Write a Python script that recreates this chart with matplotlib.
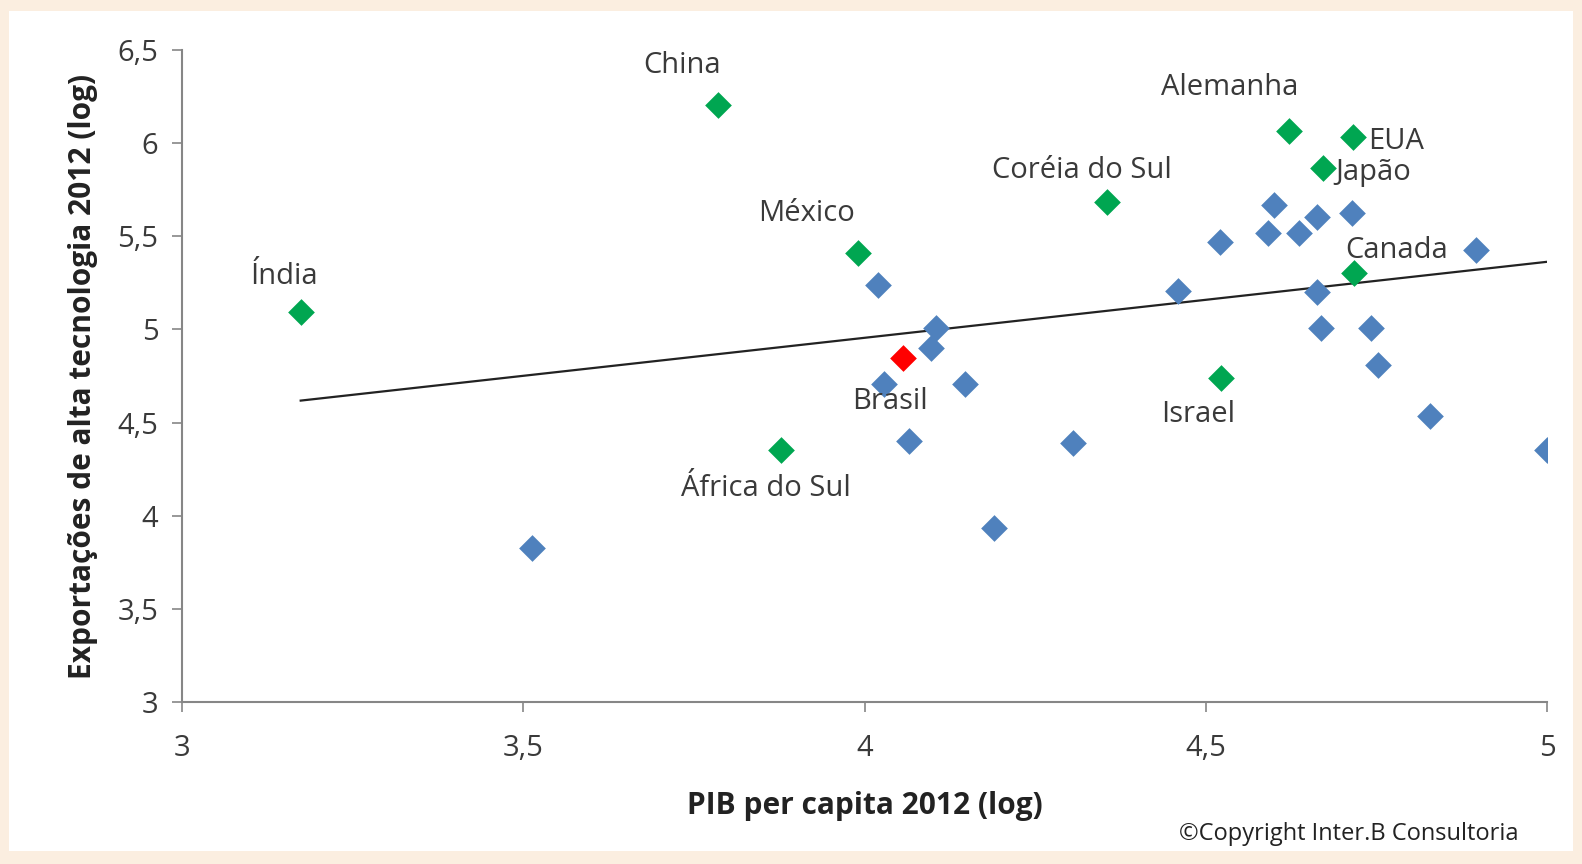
import numpy as np
import matplotlib
matplotlib.use("Agg")
import matplotlib.pyplot as plt
from matplotlib.ticker import FuncFormatter
from matplotlib.patches import Rectangle

# countries highlighted in green
green_names = ["Índia", "China", "México", "África do Sul", "Coréia do Sul",
               "Alemanha", "EUA", "Japão", "Canada", "Israel"]
green_x = [3.174, 3.786, 3.990, 3.877, 4.355, 4.622, 4.716, 4.672, 4.717, 4.522]
green_y = [5.094, 6.205, 5.410, 4.353, 5.684, 6.065, 6.033, 5.867, 5.303, 4.739]

# Brasil
brasil_x = [4.056]
brasil_y = [4.847]

# other countries
blue_x = [3.513, 4.019, 4.104, 4.098, 4.029, 4.147, 4.065, 4.189, 4.305,
          4.459, 4.521, 4.591, 4.600, 4.636, 4.663, 4.714, 4.663, 4.669,
          4.742, 4.752, 4.828, 4.896, 4.999]
blue_y = [3.827, 5.239, 5.008, 4.900, 4.707, 4.707, 4.401, 3.934, 4.390,
          5.206, 5.469, 5.518, 5.668, 5.518, 5.604, 5.625, 5.201, 5.008,
          5.008, 4.809, 4.535, 5.426, 4.353]

# label anchor positions (data coords) and alignment
label_pos = {
    "Índia": (3.150, 5.285, "center"),
    "China": (3.733, 6.42, "center"),
    "México": (3.915, 5.625, "center"),
    "África do Sul": (3.855, 4.145, "center"),
    "Coréia do Sul": (4.318, 5.855, "center"),
    "Alemanha": (4.535, 6.30, "center"),
    "EUA": (4.737, 6.01, "left"),
    "Japão": (4.690, 5.845, "left"),
    "Canada": (4.780, 5.425, "center"),
    "Israel": (4.488, 4.545, "center"),
    "Brasil": (4.037, 4.615, "center"),
}

BLUE = "#4F81BD"
GREEN = "#00A651"
RED = "#FF0000"
GRID = "#868686"
TXT = "#3a3a3a"

plt.rcParams['font.family'] = ['Open Sans', 'DejaVu Sans']

fig = plt.figure(figsize=(15.82, 8.64), dpi=100)
fig.patch.set_facecolor("#fbeee0")
fig.patches.append(Rectangle((0.006, 0.015), 0.988, 0.972, transform=fig.transFigure,
                             facecolor="white", edgecolor="none", zorder=-10))
ax = fig.add_axes([0.115, 0.1875, 0.863, 0.7545])
ax.set_facecolor("none")

ax.scatter(blue_x, blue_y, marker="D", s=185, color=BLUE, zorder=3, linewidths=0)
ax.scatter(green_x, green_y, marker="D", s=185, color=GREEN, zorder=3, linewidths=0)
ax.scatter(brasil_x, brasil_y, marker="D", s=185, color=RED, zorder=3, linewidths=0)

# linear trend over all countries
all_x = np.array(blue_x + green_x + brasil_x)
all_y = np.array(blue_y + green_y + brasil_y)
slope, intercept = np.polyfit(all_x, all_y, 1)
xs = np.array([all_x.min(), all_x.max()])
ax.plot(xs, slope * xs + intercept, color="#222222", lw=1.6, zorder=2)

for name, (lx, ly, ha) in label_pos.items():
    ax.text(lx, ly, name, ha=ha, va="center", fontsize=21, color=TXT, zorder=4)

ax.set_xlim(3, 5)
ax.set_ylim(3, 6.5)
ax.set_xticks([3, 3.5, 4, 4.5, 5])
ax.set_yticks([3, 3.5, 4, 4.5, 5, 5.5, 6, 6.5])
comma = FuncFormatter(lambda v, p: f"{v:g}".replace(".", ","))
ax.xaxis.set_major_formatter(comma)
ax.yaxis.set_major_formatter(comma)
ax.tick_params(axis="both", labelsize=21, labelcolor=TXT, color=GRID, length=7, width=1.2)
ax.tick_params(axis="x", pad=16)
ax.tick_params(axis="y", pad=10)

for s in ["top", "right"]:
    ax.spines[s].set_visible(False)
for s in ["left", "bottom"]:
    ax.spines[s].set_color(GRID)
    ax.spines[s].set_linewidth(1.5)

ax.set_xlabel("PIB per capita 2012 (log)", fontsize=21.5, fontweight="bold", color="#222222", labelpad=20)
ax.set_ylabel("Exportações de alta tecnologia 2012 (log)", fontsize=21.5, fontweight="bold",
              color="#222222", labelpad=14)

fig.text(0.96, 0.035, "©Copyright Inter.B Consultoria", ha="right", va="center",
         fontsize=17, color="#222222")

fig.savefig("out.png", dpi=100, facecolor=fig.get_facecolor())
